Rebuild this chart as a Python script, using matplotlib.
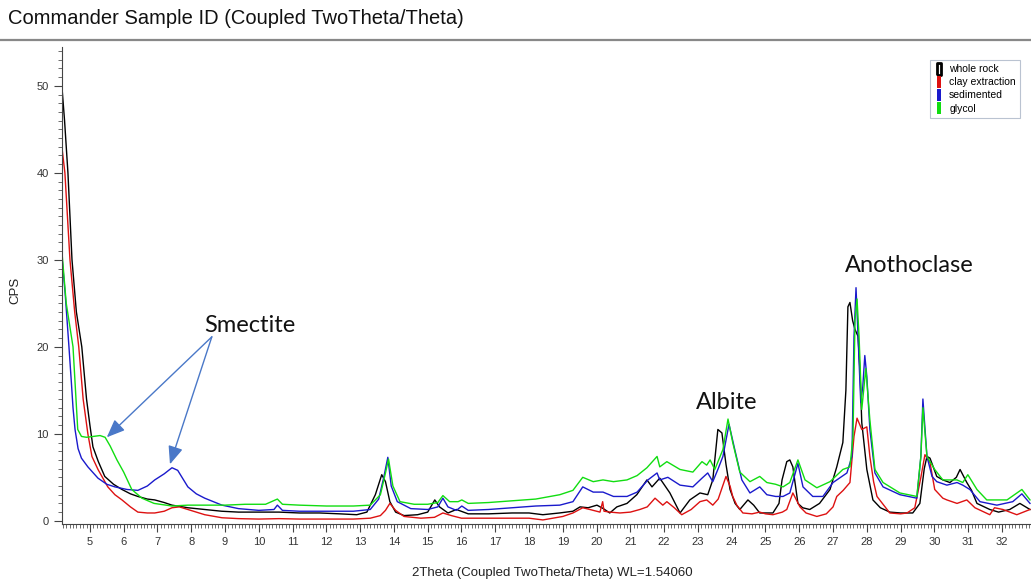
"""
XRD pattern (Coupled TwoTheta/Theta) for four sample preparations,
with mineral peak annotations.
"""
import matplotlib.pyplot as plt
from matplotlib.lines import Line2D
from matplotlib.ticker import MultipleLocator

OUT = "out.png"

# values (2theta in degrees, counts per second)
WR_X = [4.17, 4.25, 4.35, 4.47, 4.60, 4.76, 4.90, 5.00, 5.09, 5.25, 5.44, 5.70, 5.95, 6.20,
        6.42, 6.70, 6.92, 7.20, 7.43, 7.90, 8.40, 8.90, 9.40, 10.0, 10.6, 11.2, 11.8, 12.4,
        12.9, 13.2, 13.45, 13.64, 13.75, 13.88, 14.05, 14.3, 14.7, 15.0, 15.21, 15.35, 15.6,
        15.85, 16.2, 16.8, 17.5, 18.0, 18.41, 18.9, 19.3, 19.51, 19.75, 20.01, 20.2, 20.39,
        20.6, 20.90, 21.19, 21.49, 21.64, 21.87, 22.17, 22.47, 22.76, 23.06, 23.29, 23.44,
        23.59, 23.71, 23.83, 23.95, 24.1, 24.24, 24.48, 24.65, 24.83, 25.22, 25.4, 25.49,
        25.63, 25.72, 25.81, 25.96, 26.1, 26.31, 26.6, 26.91, 27.11, 27.29, 27.38, 27.44,
        27.50, 27.58, 27.65, 27.74, 27.80, 27.85, 28.0, 28.18, 28.4, 28.68, 29.0, 29.36,
        29.57, 29.70, 29.78, 29.87, 30.07, 30.25, 30.46, 30.65, 30.76, 30.96, 31.1, 31.26,
        31.64, 31.9, 32.23, 32.53, 32.83]
WR_Y = [50.0, 46.0, 40.0, 30.0, 24.0, 20.0, 14.0, 11.0, 8.5, 6.8, 5.1, 4.2, 3.6, 3.1,
        2.8, 2.5, 2.4, 2.1, 1.8, 1.5, 1.3, 1.1, 1.0, 1.0, 1.0, 0.9, 0.9, 0.8,
        0.7, 1.0, 3.0, 5.3, 4.5, 2.2, 1.0, 0.6, 0.7, 1.0, 2.4, 1.6, 0.9,
        1.3, 0.8, 0.8, 0.9, 0.9, 0.7, 0.9, 1.1, 1.6, 1.5, 1.8, 1.4, 0.9,
        1.6, 2.0, 3.0, 4.7, 3.9, 4.9, 3.2, 0.9, 2.4, 3.2, 3.0, 4.7,
        10.5, 10.1, 6.5, 3.6, 2.0, 1.3, 2.4, 1.8, 0.9, 0.9, 2.0, 4.7,
        6.8, 7.0, 6.2, 2.0, 1.5, 1.3, 2.0, 3.6, 6.2, 9.0, 15.0, 24.6,
        25.1, 23.0, 22.0, 21.2, 17.0, 11.3, 5.9, 2.4, 1.5, 1.0, 0.9, 0.9,
        2.0, 6.0, 7.4, 7.2, 5.1, 4.7, 4.4, 5.0, 5.9, 4.4, 3.5, 2.0,
        1.3, 1.0, 1.3, 2.0, 1.3]

CLAY_X = [4.17, 4.26, 4.41, 4.55, 4.67, 4.80, 4.94, 5.06, 5.24, 5.53, 5.74, 5.95, 6.2, 6.42,
          6.7, 6.92, 7.2, 7.43, 7.65, 7.90, 8.40, 8.91, 9.4, 10.0, 10.6, 11.2, 12.0, 12.8,
          13.3, 13.6, 13.75, 13.88, 14.05, 14.3, 14.8, 15.2, 15.45, 15.7, 16.0, 16.6, 17.3,
          18.0, 18.41, 19.0, 19.3, 19.59, 19.8, 20.10, 20.18, 20.22, 20.4, 20.69, 21.0, 21.28,
          21.5, 21.73, 21.96, 22.08, 22.3, 22.52, 22.8, 23.06, 23.26, 23.44, 23.6, 23.83,
          23.95, 24.03, 24.15, 24.33, 24.6, 24.83, 25.0, 25.22, 25.5, 25.63, 25.81, 26.02,
          26.2, 26.52, 26.8, 27.0, 27.11, 27.3, 27.5, 27.62, 27.71, 27.85, 28.0, 28.09, 28.2,
          28.30, 28.68, 29.0, 29.19, 29.42, 29.6, 29.72, 29.87, 30.01, 30.25, 30.37, 30.67,
          30.96, 31.2, 31.64, 31.78, 32.03, 32.44, 32.83]
CLAY_Y = [43.0, 40.0, 30.0, 24.0, 20.0, 14.0, 10.0, 7.4, 5.9, 3.9, 3.0, 2.4, 1.6, 1.0,
          0.9, 0.9, 1.1, 1.5, 1.6, 1.3, 0.7, 0.35, 0.25, 0.2, 0.25, 0.2, 0.2, 0.2,
          0.3, 0.6, 1.2, 2.0, 1.2, 0.5, 0.3, 0.4, 0.9, 0.6, 0.3, 0.3, 0.3,
          0.3, 0.1, 0.5, 0.9, 1.5, 1.3, 1.0, 2.2, 1.1, 1.0, 0.9, 1.0, 1.3,
          1.6, 2.6, 1.8, 2.2, 1.5, 0.7, 1.3, 2.2, 2.4, 1.8, 2.5, 5.1,
          4.0, 2.8, 1.8, 0.9, 0.8, 1.0, 0.8, 0.7, 1.0, 1.3, 3.2, 1.6,
          0.9, 0.5, 0.8, 1.6, 2.8, 3.5, 4.4, 9.7, 11.8, 10.5, 10.8, 7.4, 4.5,
          2.8, 0.9, 0.8, 0.9, 1.5, 5.0, 7.6, 6.7, 3.6, 2.6, 2.4, 2.0,
          2.4, 1.5, 0.7, 1.5, 1.3, 0.7, 1.3]

SED_X = [4.17, 4.27, 4.38, 4.45, 4.50, 4.56, 4.65, 4.75, 4.94, 5.24, 5.50, 5.74, 6.1, 6.42,
         6.7, 6.92, 7.2, 7.43, 7.6, 7.90, 8.15, 8.40, 8.91, 9.4, 10.0, 10.45, 10.55, 10.7,
         11.2, 12.0, 12.8, 13.3, 13.55, 13.70, 13.82, 13.92, 14.1, 14.5, 15.0, 15.3, 15.45,
         15.6, 15.85, 16.01, 16.2, 16.8, 17.5, 18.2, 18.91, 19.3, 19.59, 19.9, 20.19, 20.5,
         20.90, 21.2, 21.52, 21.79, 21.87, 22.11, 22.47, 22.85, 23.12, 23.29, 23.44, 23.6,
         23.74, 23.92, 24.09, 24.30, 24.54, 24.83, 25.04, 25.3, 25.52, 25.72, 25.96, 26.11,
         26.40, 26.7, 27.0, 27.41, 27.56, 27.62, 27.68, 27.74, 27.82, 27.88, 27.94, 28.0,
         28.09, 28.24, 28.48, 28.98, 29.48, 29.60, 29.66, 29.78, 29.93, 30.07, 30.37, 30.67,
         30.84, 31.05, 31.35, 31.85, 32.32, 32.59, 32.83]
SED_Y = [30.5, 26.0, 20.0, 16.0, 13.0, 10.5, 8.3, 7.2, 6.2, 4.9, 4.2, 3.9, 3.6, 3.5,
         4.0, 4.7, 5.4, 6.1, 5.8, 3.9, 3.1, 2.6, 1.8, 1.4, 1.2, 1.3, 1.8, 1.2,
         1.1, 1.1, 1.1, 1.3, 2.5, 5.0, 7.3, 4.0, 2.2, 1.4, 1.3, 1.6, 2.6,
         1.6, 1.2, 1.7, 1.2, 1.3, 1.5, 1.7, 1.8, 2.2, 3.9, 3.3, 3.3, 2.8,
         2.8, 3.3, 4.7, 5.5, 4.7, 5.0, 4.1, 3.9, 4.9, 5.5, 4.5, 6.0,
         7.4, 11.1, 8.2, 4.7, 3.2, 3.9, 3.0, 2.8, 2.8, 3.2, 6.6, 3.9,
         2.8, 2.8, 4.4, 5.5, 7.4, 21.2, 26.8, 21.2, 13.6, 15.4, 19.0, 16.6,
         10.5, 5.5, 3.9, 3.0, 2.6, 7.4, 14.0, 7.4, 5.1, 4.5, 4.1, 4.4,
         4.1, 3.6, 2.2, 1.8, 2.2, 3.1, 2.0]

GLY_X = [4.17, 4.3, 4.5, 4.64, 4.75, 4.9, 5.1, 5.3, 5.45, 5.6, 5.8, 6.0, 6.24, 6.54,
         6.9, 7.43, 7.9, 8.4, 9.0, 9.6, 10.2, 10.55, 10.7, 11.2, 12.0, 12.8, 13.3, 13.6,
         13.75, 13.84, 13.97, 14.18, 14.6, 15.0, 15.3, 15.45, 15.65, 15.9, 16.01, 16.2,
         16.8, 17.5, 18.2, 18.91, 19.3, 19.59, 19.9, 20.19, 20.5, 20.90, 21.2, 21.49,
         21.79, 21.87, 22.08, 22.47, 22.85, 23.12, 23.26, 23.36, 23.5, 23.74, 23.89, 24.03,
         24.24, 24.54, 24.83, 25.04, 25.3, 25.52, 25.72, 25.96, 26.17, 26.52, 26.91, 27.29,
         27.50, 27.59, 27.65, 27.71, 27.77, 27.85, 27.97, 28.09, 28.24, 28.48, 28.98, 29.48,
         29.60, 29.66, 29.78, 30.01, 30.25, 30.67, 30.84, 30.99, 31.26, 31.55, 32.15, 32.59,
         32.83]
GLY_Y = [31.0, 25.0, 20.0, 10.5, 9.7, 9.6, 9.7, 9.8, 9.6, 8.6, 7.0, 5.6, 3.6, 2.6,
         2.0, 1.7, 1.8, 1.8, 1.8, 1.9, 1.9, 2.5, 1.9, 1.8, 1.7, 1.7, 1.8, 3.0,
         5.5, 7.1, 4.0, 2.2, 1.9, 1.9, 2.1, 2.9, 2.2, 2.2, 2.4, 2.0,
         2.1, 2.3, 2.5, 3.0, 3.5, 5.0, 4.5, 4.7, 4.5, 4.7, 5.2, 6.1,
         7.4, 6.2, 6.8, 5.9, 5.6, 6.8, 6.4, 7.0, 5.9, 8.2, 11.7, 9.0,
         5.6, 4.5, 5.1, 4.4, 4.2, 3.9, 4.4, 7.0, 4.7, 3.8, 4.5, 5.9,
         6.2, 9.7, 23.1, 25.5, 21.2, 12.8, 17.5, 11.6, 5.9, 4.4, 3.2, 2.8,
         7.4, 13.0, 7.4, 5.9, 4.7, 4.7, 4.4, 5.3, 3.6, 2.4, 2.4, 3.6,
         2.4]

SERIES = [
    ("whole rock", WR_X, WR_Y, "#000000"),
    ("clay extraction", CLAY_X, CLAY_Y, "#dd1111"),
    ("sedimented", SED_X, SED_Y, "#1a1acc"),
    ("glycol", GLY_X, GLY_Y, "#11dd11"),
]

# mineral labels: (text, x, y)
LABELS = [("Smectite", 9.74, 22.5), ("Albite", 23.86, 13.6), ("Anothoclase", 29.27, 29.4)]
SMECTITE_TAIL = (8.61, 21.15)
SMECTITE_HEADS = [(5.5, 9.6), (7.37, 6.5)]

BAR = [(-0.35, -1), (0.35, -1), (0.35, 1), (-0.35, 1), (-0.35, -1)]


def main():
    plt.rcParams["font.family"] = ["Liberation Sans", "DejaVu Sans"]
    fig = plt.figure(figsize=(10.31, 5.84), dpi=100)
    ax = fig.add_axes([0.060, 0.103, 0.940, 0.817])

    for name, xs, ys, col in SERIES:
        ax.plot(xs, ys, color=col, lw=1.0, label=name)

    ax.set_xlim(4.17, 32.86)
    ax.set_ylim(-0.35, 54.5)
    ax.xaxis.set_minor_locator(MultipleLocator(0.1))
    ax.yaxis.set_major_locator(MultipleLocator(10))
    ax.yaxis.set_minor_locator(MultipleLocator(1))
    ax.set_xticks(range(5, 33))
    ax.tick_params(which="major", length=6, width=0.8, color="#444444",
                   labelsize=8, labelcolor="#333333")
    ax.tick_params(which="minor", length=3, width=0.6, color="#555555")
    for s in ("top", "right"):
        ax.spines[s].set_visible(False)
    for s in ("left", "bottom"):
        ax.spines[s].set_color("#444444")
        ax.spines[s].set_linewidth(0.8)

    # annotations
    for txt, x, y in LABELS:
        ax.text(x, y, txt, fontsize=17, family=["Lato", "DejaVu Sans"],
                ha="center", va="center", color="#111111")
    for hx, hy in SMECTITE_HEADS:
        ax.annotate("", xy=(hx, hy), xytext=SMECTITE_TAIL,
                    arrowprops=dict(arrowstyle="-|>,head_length=1.1,head_width=0.45",
                                    color="#4a78c8", lw=1.0, shrinkA=0, shrinkB=0))

    handles = [
        Line2D([], [], ls="none", marker=BAR, markersize=9, markerfacecolor="white",
               markeredgecolor="black", markeredgewidth=2.0),
    ]
    for _, _, _, col in SERIES[1:]:
        handles.append(Line2D([], [], ls="none", marker=BAR, markersize=8,
                              markerfacecolor=col, markeredgecolor=col, markeredgewidth=0))
    leg = ax.legend(handles, [s[0] for s in SERIES], loc="upper right",
                    bbox_to_anchor=(0.994, 0.983), fontsize=7.5, frameon=True, fancybox=False,
                    handlelength=0.9, handletextpad=0.5, labelspacing=0.3,
                    borderpad=0.4, edgecolor="#a9b4c6")
    leg.get_frame().set_linewidth(0.8)

    fig.text(0.008, 0.968, "Commander Sample ID (Coupled TwoTheta/Theta)",
             fontsize=14.5, ha="left", va="center", color="#111111")
    fig.add_artist(Line2D([0.0, 1.0], [0.931, 0.931], color="#888888", lw=1.6,
                          transform=fig.transFigure))
    fig.text(0.536, 0.019, "2Theta (Coupled TwoTheta/Theta) WL=1.54060",
             fontsize=9.5, ha="center", va="center", color="#222222")
    fig.text(0.015, 0.503, "CPS", fontsize=9.5, rotation=90,
             ha="center", va="center", color="#222222")

    fig.savefig(OUT, dpi=100)
    plt.close(fig)


if __name__ == "__main__":
    main()
